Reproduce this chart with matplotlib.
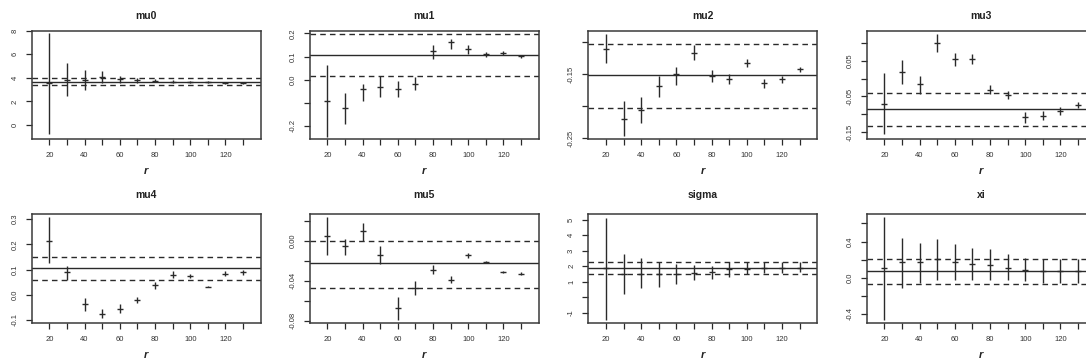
import numpy as np
import matplotlib
matplotlib.use("Agg")
import matplotlib.pyplot as plt

plt.rcParams["font.family"] = ["Liberation Sans", "DejaVu Sans"]

r = [20, 30, 40, 50, 60, 70, 80, 90, 100, 110, 120, 130]
r_ticks = [20, 30, 40, 50, 60, 70, 80, 90, 100, 110, 120, 130]
r_labels = ["20", "", "40", "", "60", "", "80", "", "100", "", "120", ""]

names = ["mu0", "mu1", "mu2", "mu3", "mu4", "mu5", "sigma", "xi"]

# point estimates and interval ends for each threshold r
mu0_est = [3.57, 3.85, 3.85, 4.07, 3.93, 3.82, 3.76, 3.68, 3.62, 3.62, 3.60, 3.57]
mu0_lo = [-0.79, 2.5, 3.0, 3.57, 3.57, 3.6, 3.62, 3.58, 3.54, 3.54, 3.52, 3.5]
mu0_hi = [7.78, 5.3, 4.7, 4.55, 4.2, 4.0, 3.9, 3.8, 3.72, 3.7, 3.68, 3.65]

mu1_est = [-0.091, -0.124, -0.040, -0.033, -0.040, -0.018, 0.123, 0.161, 0.135, 0.110, 0.116, 0.101]
mu1_lo = [-0.248, -0.193, -0.091, -0.076, -0.076, -0.044, 0.091, 0.135, 0.113, 0.097, 0.105, 0.093]
mu1_hi = [0.062, -0.059, -0.018, 0.018, -0.004, 0.011, 0.149, 0.178, 0.149, 0.122, 0.124, 0.109]

mu2_est = [-0.110, -0.219, -0.205, -0.169, -0.149, -0.117, -0.153, -0.157, -0.132, -0.1635, -0.158, -0.142]
mu2_lo = [-0.133, -0.247, -0.226, -0.186, -0.167, -0.128, -0.162, -0.165, -0.139, -0.171, -0.164, -0.147]
mu2_hi = [-0.0865, -0.191, -0.186, -0.152, -0.139, -0.105, -0.144, -0.150, -0.126, -0.158, -0.153, -0.138]

mu3_est = [-0.071, 0.0185, -0.016, 0.100, 0.056, 0.056, -0.032, -0.046, -0.108, -0.104, -0.090, -0.074]
mu3_lo = [-0.157, -0.016, -0.044, 0.074, 0.037, 0.042, -0.0435, -0.058, -0.124, -0.117, -0.102, -0.083]
mu3_hi = [0.015, 0.052, 0.007, 0.126, 0.072, 0.070, -0.0185, -0.035, -0.094, -0.091, -0.080, -0.066]

mu4_est = [0.214, 0.089, -0.036, -0.075, -0.055, -0.022, 0.037, 0.080, 0.076, 0.032, 0.084, 0.089]
mu4_lo = [0.125, 0.057, -0.064, -0.091, -0.072, -0.034, 0.024, 0.067, 0.067, 0.029, 0.074, 0.080]
mu4_hi = [0.307, 0.112, -0.012, -0.055, -0.038, -0.008, 0.050, 0.093, 0.084, 0.036, 0.095, 0.097]

mu5_est = [0.0043, -0.0057, 0.0093, -0.014, -0.0673, -0.0473, -0.029, -0.039, -0.0147, -0.0213, -0.0313, -0.033]
mu5_lo = [-0.0147, -0.0147, -0.0007, -0.0233, -0.079, -0.054, -0.0333, -0.0423, -0.0173, -0.0227, -0.0327, -0.0347]
mu5_hi = [0.0233, 0.002, 0.0177, -0.0057, -0.0567, -0.040, -0.0247, -0.0357, -0.0123, -0.0200, -0.0300, -0.0313]

sigma_est = [1.87, 1.52, 1.52, 1.48, 1.52, 1.59, 1.65, 1.80, 1.80, 1.91, 1.91, 1.91]
sigma_lo = [-1.44, 0.23, 0.62, 0.66, 0.87, 1.09, 1.18, 1.34, 1.49, 1.56, 1.56, 1.62]
sigma_hi = [5.1, 2.82, 2.52, 2.3, 2.13, 2.08, 2.02, 2.25, 2.25, 2.25, 2.25, 2.25]

xi_est = [0.104, 0.178, 0.178, 0.204, 0.178, 0.156, 0.141, 0.104, 0.081, 0.074, 0.074, 0.074]
xi_lo = [-0.463, -0.111, -0.056, -0.030, -0.030, -0.030, -0.030, -0.030, -0.037, -0.056, -0.056, -0.056]
xi_hi = [0.667, 0.444, 0.389, 0.426, 0.378, 0.333, 0.315, 0.267, 0.222, 0.204, 0.204, 0.204]

# reference fit: solid line, dashed interval lines
ref_mid = [3.62, 0.108, -0.1516, -0.085, 0.107, -0.0227, 1.87, 0.074]
ref_lo = [3.43, 0.014, -0.202, -0.134, 0.057, -0.0473, 1.52, -0.067]
ref_hi = [3.96, 0.196, -0.102, -0.039, 0.151, 0.0, 2.3, 0.204]

ylims = [(-1.16, 8.0), (-0.255, 0.212), (-0.2505, -0.082), (-0.169, 0.135),
         (-0.112, 0.32), (-0.0823, 0.0267), (-1.65, 5.37), (-0.5, 0.704)]

y_ticks = [
    [0, 2, 4, 6, 8],
    [-0.2, -0.1, 0.0, 0.1, 0.2],
    [-0.25, -0.20, -0.15, -0.10],
    [-0.15, -0.10, -0.05, 0.0, 0.05, 0.10],
    [-0.1, 0.0, 0.1, 0.2, 0.3],
    [-0.08, -0.06, -0.04, -0.02, 0.00, 0.02],
    [-1, 0, 1, 2, 3, 4, 5],
    [-0.4, -0.2, 0.0, 0.2, 0.4, 0.6],
]
y_labels = [
    ["0", "2", "4", "6", "8"],
    ["-0.2", "", "0.0", "0.1", "0.2"],
    ["-0.25", "", "-0.15", ""],
    ["-0.15", "", "-0.05", "", "0.05", ""],
    ["-0.1", "0.0", "0.1", "0.2", "0.3"],
    ["-0.08", "", "-0.04", "", "0.00", ""],
    ["-1", "", "1", "2", "3", "4", "5"],
    ["-0.4", "", "0.0", "", "0.4", ""],
]

ests = [mu0_est, mu1_est, mu2_est, mu3_est, mu4_est, mu5_est, sigma_est, xi_est]
los = [mu0_lo, mu1_lo, mu2_lo, mu3_lo, mu4_lo, mu5_lo, sigma_lo, xi_lo]
his = [mu0_hi, mu1_hi, mu2_hi, mu3_hi, mu4_hi, mu5_hi, sigma_hi, xi_hi]

W, H = 1086, 362
fig = plt.figure(figsize=(W / 100, H / 100), dpi=100)

col_left = [31.7, 309.7, 588.3, 866.7]
box_w = 229
row_top = [30.7, 214.0]
box_h = [108.0, 109.0]
title_pad = [8.5, 11.5]

ink = "#2a2a2a"

for i, name in enumerate(names):
    row, col = divmod(i, 4)
    left = col_left[col] / W
    bottom = 1 - (row_top[row] + box_h[row]) / H
    ax = fig.add_axes([left, bottom, box_w / W, box_h[row] / H])

    est = np.array(ests[i])
    lo = np.array(los[i])
    hi = np.array(his[i])
    ax.vlines(r, lo, hi, color=ink, lw=1.0)
    ax.plot(r, est, ls="none", marker="_", ms=4, mew=1.0, color=ink)

    ax.axhline(ref_mid[i], color=ink, lw=1.0)
    ax.axhline(ref_lo[i], color=ink, lw=1.0, ls=(0, (4, 3)))
    ax.axhline(ref_hi[i], color=ink, lw=1.0, ls=(0, (4, 3)))

    ax.set_xlim(10, 140)
    ax.set_ylim(*ylims[i])
    ax.set_xticks(r_ticks)
    ax.set_xticklabels(r_labels)
    ax.set_yticks(y_ticks[i])
    ax.set_yticklabels(y_labels[i], rotation=90, va="center")

    ax.tick_params(axis="both", length=4.5, width=0.9, color=ink,
                   labelsize=5.5, labelcolor="#333333")
    ax.tick_params(axis="x", pad=5)
    ax.tick_params(axis="y", pad=5)
    for s in ax.spines.values():
        s.set_color("#3a3a3a")
        s.set_linewidth(1.1)

    ax.set_title(name, fontsize=7.5, fontweight="bold", pad=title_pad[row], color="#222222")
    ax.set_xlabel("r", fontsize=8, fontweight="bold", style="italic", labelpad=5, color="#222222")

fig.savefig("out.png", dpi=100)
